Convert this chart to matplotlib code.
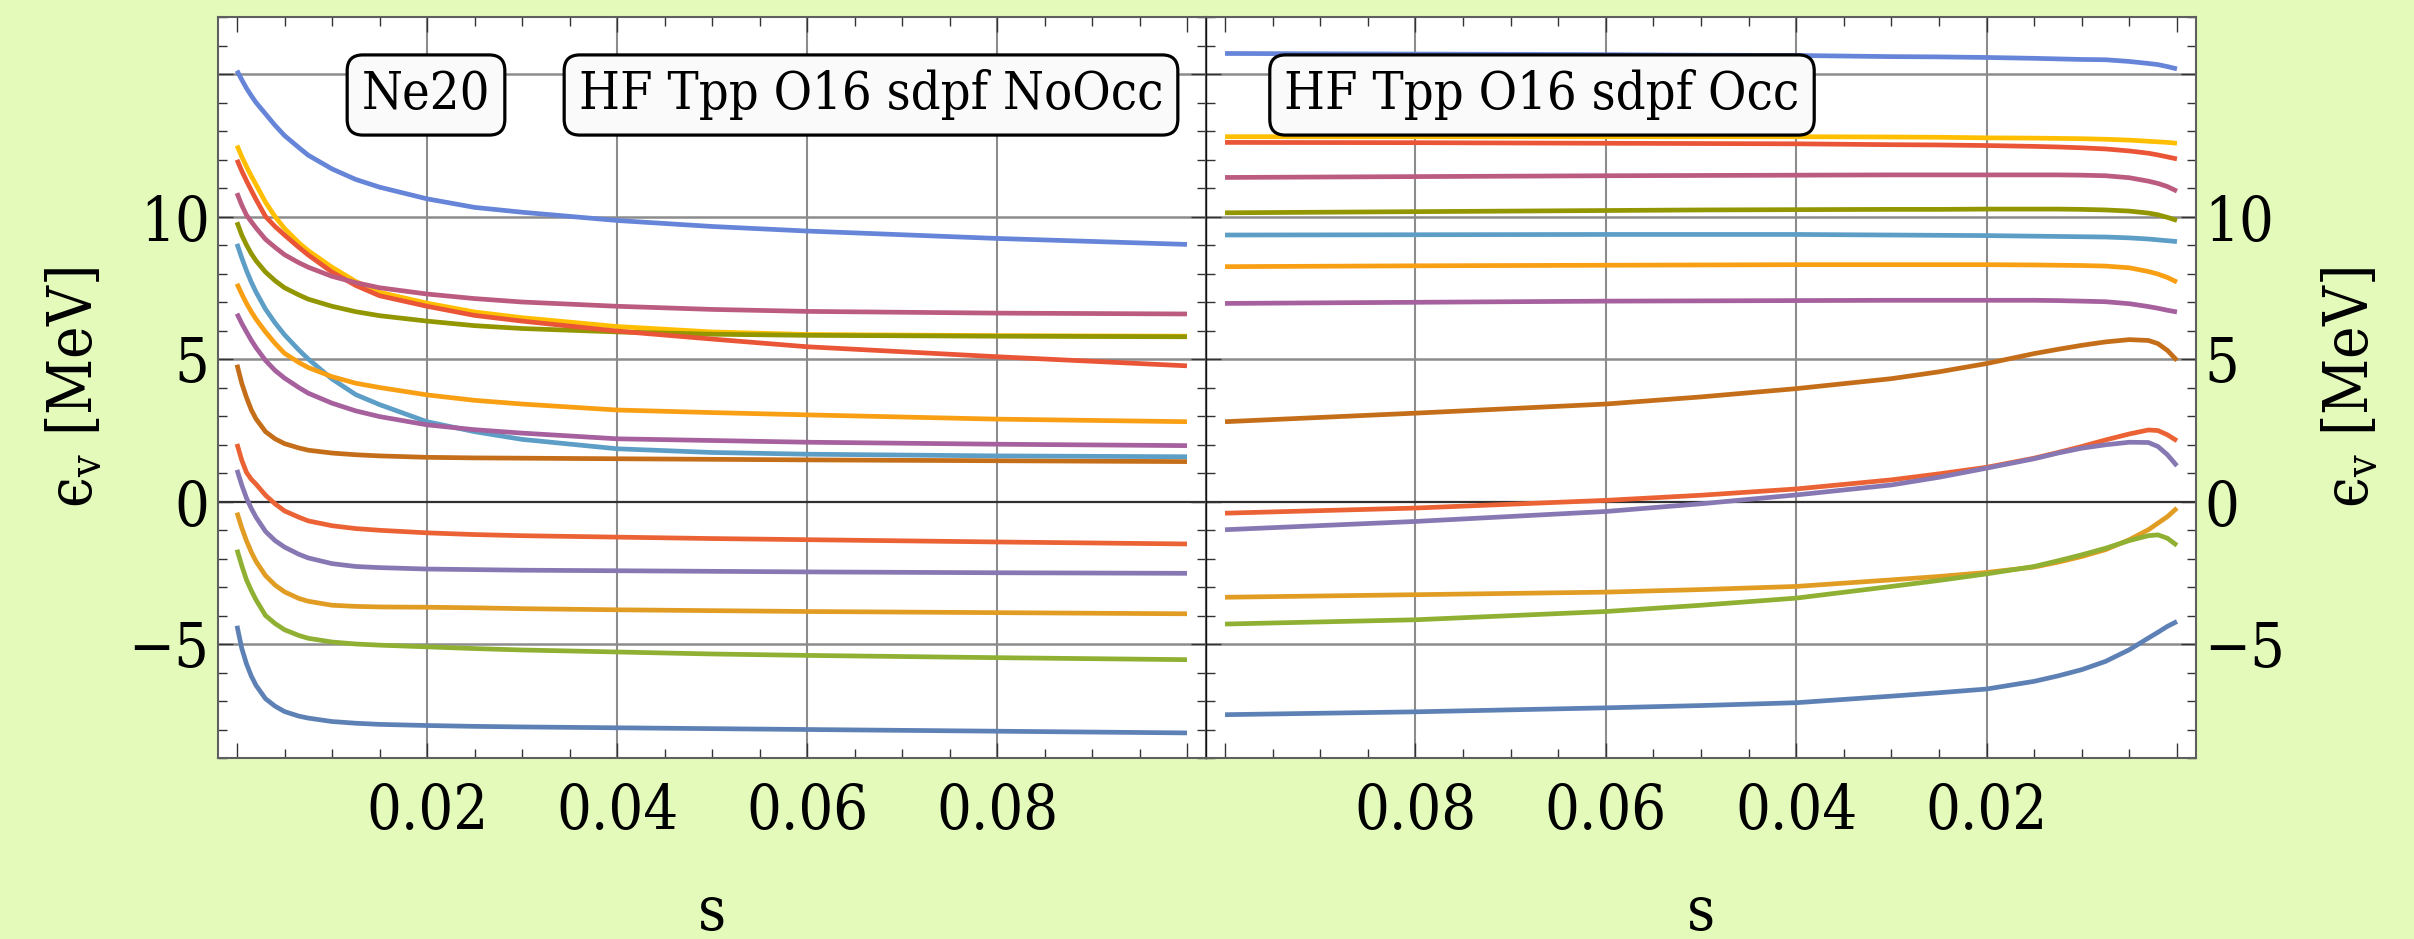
import matplotlib
matplotlib.use("Agg")
import matplotlib.pyplot as plt
from matplotlib.ticker import FixedLocator, MultipleLocator

plt.rcParams["font.family"] = "DejaVu Serif"
plt.rcParams["font.stretch"] = "condensed"
plt.rcParams["mathtext.fontset"] = "dejavuserif"

# flow parameter s; the NoOcc curves fall steeply near s = 0, so they get a finer grid there
s_no_occ = [0, 0.0005, 0.001, 0.0015, 0.002, 0.003, 0.004, 0.005, 0.0065, 0.0075, 0.01,
            0.0125, 0.015, 0.02, 0.025, 0.03, 0.04, 0.05, 0.06, 0.08, 0.1]
s_occ = [0, 0.001, 0.002, 0.003, 0.005, 0.0075, 0.01, 0.0125, 0.015,
         0.02, 0.025, 0.03, 0.04, 0.05, 0.06, 0.08, 0.1]

# single-particle energies (MeV), NoOcc run
no_occ_1 = [-4.36, -5.15, -5.70, -6.12, -6.45, -6.92, -7.18, -7.37, -7.53, -7.60, -7.72, -7.78, -7.82, -7.86, -7.89, -7.91, -7.94, -7.97, -8.00, -8.06, -8.12]
no_occ_2 = [-0.39, -0.92, -1.38, -1.77, -2.10, -2.60, -2.93, -3.17, -3.40, -3.50, -3.64, -3.68, -3.70, -3.71, -3.73, -3.76, -3.80, -3.83, -3.86, -3.90, -3.94]
no_occ_3 = [-1.69, -2.25, -2.75, -3.12, -3.45, -4.00, -4.28, -4.50, -4.70, -4.80, -4.93, -5.00, -5.04, -5.10, -5.16, -5.21, -5.28, -5.35, -5.40, -5.48, -5.55]
no_occ_4 = [2.02, 1.45, 1.02, 0.78, 0.61, 0.22, -0.08, -0.33, -0.55, -0.68, -0.85, -0.95, -1.01, -1.10, -1.16, -1.20, -1.25, -1.30, -1.34, -1.42, -1.49]
no_occ_5 = [1.11, 0.58, 0.12, -0.24, -0.55, -1.05, -1.37, -1.60, -1.85, -1.98, -2.18, -2.28, -2.32, -2.37, -2.39, -2.41, -2.43, -2.45, -2.47, -2.50, -2.52]
no_occ_6 = [4.80, 4.15, 3.65, 3.22, 2.90, 2.45, 2.20, 2.03, 1.88, 1.80, 1.70, 1.64, 1.60, 1.55, 1.53, 1.52, 1.50, 1.48, 1.46, 1.43, 1.40]
no_occ_7 = [9.04, 8.55, 8.10, 7.70, 7.35, 6.75, 6.27, 5.85, 5.32, 5.00, 4.30, 3.75, 3.40, 2.80, 2.45, 2.18, 1.85, 1.72, 1.66, 1.60, 1.57]
no_occ_8 = [12.49, 12.10, 11.75, 11.42, 11.12, 10.50, 10.00, 9.58, 9.08, 8.80, 8.22, 7.72, 7.34, 6.96, 6.65, 6.45, 6.14, 5.95, 5.86, 5.82, 5.80]
no_occ_9 = [6.59, 6.25, 5.95, 5.66, 5.40, 4.95, 4.60, 4.33, 4.00, 3.80, 3.45, 3.18, 2.98, 2.69, 2.52, 2.40, 2.20, 2.14, 2.08, 2.01, 1.96]
no_occ_10 = [9.80, 9.35, 9.00, 8.70, 8.45, 8.05, 7.75, 7.50, 7.25, 7.10, 6.85, 6.66, 6.52, 6.33, 6.17, 6.07, 5.95, 5.87, 5.83, 5.80, 5.78]
no_occ_11 = [11.99, 11.60, 11.25, 10.92, 10.60, 10.00, 9.65, 9.35, 8.92, 8.65, 8.05, 7.58, 7.22, 6.85, 6.53, 6.33, 5.98, 5.70, 5.43, 5.08, 4.76]
no_occ_12 = [15.12, 14.80, 14.50, 14.24, 14.00, 13.60, 13.20, 12.84, 12.42, 12.15, 11.67, 11.30, 11.03, 10.62, 10.32, 10.15, 9.86, 9.65, 9.49, 9.23, 9.02]
no_occ_13 = [7.64, 7.28, 6.95, 6.66, 6.40, 5.95, 5.55, 5.20, 4.88, 4.70, 4.38, 4.15, 4.00, 3.74, 3.55, 3.42, 3.21, 3.12, 3.04, 2.89, 2.80]
no_occ_14 = [10.82, 10.40, 10.05, 9.82, 9.60, 9.20, 8.92, 8.66, 8.38, 8.22, 7.90, 7.68, 7.50, 7.28, 7.12, 7.00, 6.85, 6.74, 6.67, 6.61, 6.58]

# single-particle energies (MeV), Occ run
occ_1 = [-4.21, -4.38, -4.59, -4.79, -5.20, -5.61, -5.90, -6.12, -6.31, -6.58, -6.71, -6.83, -7.06, -7.16, -7.24, -7.38, -7.48]
occ_2 = [-0.23, -0.53, -0.76, -0.99, -1.34, -1.69, -1.93, -2.13, -2.30, -2.49, -2.63, -2.75, -2.98, -3.09, -3.18, -3.27, -3.36]
occ_3 = [-1.54, -1.29, -1.17, -1.20, -1.37, -1.64, -1.87, -2.08, -2.28, -2.54, -2.77, -2.98, -3.39, -3.64, -3.86, -4.15, -4.30]
occ_4 = [2.13, 2.34, 2.49, 2.51, 2.37, 2.16, 1.93, 1.72, 1.52, 1.20, 0.97, 0.76, 0.44, 0.22, 0.04, -0.23, -0.41]
occ_5 = [1.25, 1.64, 1.93, 2.07, 2.08, 1.99, 1.87, 1.70, 1.50, 1.17, 0.85, 0.58, 0.23, -0.08, -0.35, -0.70, -0.99]
occ_6 = [4.95, 5.30, 5.54, 5.65, 5.68, 5.60, 5.48, 5.34, 5.19, 4.84, 4.55, 4.31, 3.96, 3.67, 3.42, 3.10, 2.80]
occ_7 = [9.12, 9.15, 9.18, 9.21, 9.25, 9.28, 9.29, 9.30, 9.31, 9.33, 9.34, 9.35, 9.37, 9.37, 9.37, 9.36, 9.35]
occ_8 = [12.57, 12.60, 12.62, 12.64, 12.68, 12.71, 12.73, 12.74, 12.75, 12.76, 12.78, 12.79, 12.80, 12.80, 12.80, 12.80, 12.80]
occ_9 = [6.65, 6.71, 6.78, 6.84, 6.94, 7.01, 7.03, 7.05, 7.06, 7.06, 7.06, 7.06, 7.05, 7.04, 7.03, 6.99, 6.95]
occ_10 = [9.86, 9.97, 10.06, 10.12, 10.19, 10.23, 10.25, 10.26, 10.26, 10.26, 10.25, 10.25, 10.24, 10.23, 10.21, 10.17, 10.13]
occ_11 = [12.02, 12.09, 12.16, 12.22, 12.30, 12.37, 12.41, 12.44, 12.46, 12.49, 12.51, 12.52, 12.55, 12.56, 12.57, 12.59, 12.60]
occ_12 = [15.18, 15.26, 15.33, 15.37, 15.44, 15.50, 15.51, 15.53, 15.55, 15.58, 15.60, 15.61, 15.65, 15.66, 15.68, 15.70, 15.72]
occ_13 = [7.70, 7.86, 7.98, 8.07, 8.20, 8.26, 8.28, 8.29, 8.30, 8.31, 8.31, 8.31, 8.31, 8.30, 8.29, 8.27, 8.24]
occ_14 = [10.89, 11.05, 11.16, 11.24, 11.36, 11.43, 11.45, 11.46, 11.46, 11.46, 11.46, 11.46, 11.45, 11.44, 11.43, 11.40, 11.37]

no_occ = [no_occ_1, no_occ_2, no_occ_3, no_occ_4, no_occ_5, no_occ_6, no_occ_7,
          no_occ_8, no_occ_9, no_occ_10, no_occ_11, no_occ_12, no_occ_13, no_occ_14]
occ = [occ_1, occ_2, occ_3, occ_4, occ_5, occ_6, occ_7,
       occ_8, occ_9, occ_10, occ_11, occ_12, occ_13, occ_14]

# Mathematica's default plot palette (ColorData[97])
palette = ["#5E81B5", "#E19C24", "#8FB032", "#EB6235", "#8778B3", "#C56E1A", "#5D9EC7",
           "#FFBF00", "#A5609D", "#929600", "#E95536", "#6685D9", "#F89F13", "#BC5B80"]

x_major = [0, 0.02, 0.04, 0.06, 0.08, 0.1]
x_labels = ["", "0.02", "0.04", "0.06", "0.08", ""]
y_major = [-5, 0, 5, 10, 15]
y_labels = ["\u22125", "0", "5", "10", ""]

W, H = 2414, 939
bg = "#e3fabb"
grid_c = "#8c8c8c"

fig = plt.figure(figsize=(W / 100, H / 100), dpi=100, facecolor=bg)
ax_l = fig.add_axes([218 / W, 1 - 758 / H, 988 / W, 741 / H])
ax_r = fig.add_axes([1206 / W, 1 - 758 / H, 990 / W, 741 / H])


def style_panel(ax, s_vals, levels, side):
    for vals, col in zip(levels, palette):
        ax.plot(s_vals, vals, color=col, lw=3.4, solid_capstyle="butt",
                solid_joinstyle="round", zorder=3)
    for xv in x_major[1:-1]:
        ax.axvline(xv, color=grid_c, lw=1.5, zorder=1)
    for yv in y_major:
        if yv == 0:
            ax.axhline(0, color="#303030", lw=1.6, zorder=1)
        else:
            ax.axhline(yv, color=grid_c, lw=1.8, zorder=1)
    ax.set_ylim(-9.0, 17.0)
    if side == "left":
        ax.set_xlim(-0.002, 0.102)
    else:
        ax.set_xlim(0.102, -0.002)
    ax.xaxis.set_major_locator(FixedLocator(x_major))
    ax.set_xticklabels(x_labels)
    ax.xaxis.set_minor_locator(MultipleLocator(0.005))
    ax.yaxis.set_major_locator(FixedLocator(y_major))
    ax.set_yticklabels(y_labels)
    ax.yaxis.set_minor_locator(MultipleLocator(1))
    ax.tick_params(which="both", direction="in", top=True, bottom=True,
                   left=True, right=True, color="#333333", width=1.0,
                   labelsize=44)
    ax.tick_params(which="major", length=10.5)
    ax.tick_params(which="minor", length=6.5)
    ax.tick_params(axis="x", pad=17)
    ax.tick_params(axis="y", pad=6)
    if side == "right":
        ax.tick_params(axis="y", labelleft=False, labelright=True)
    for sp in ax.spines.values():
        sp.set_color("#5f5f5f")
        sp.set_linewidth(1.5)
    ax.set_facecolor("white")


style_panel(ax_l, s_no_occ, no_occ, "left")
style_panel(ax_r, s_occ, occ, "right")
ax_r.spines["left"].set_color("#111111")
ax_r.spines["left"].set_linewidth(1.0)

ylab = "\u03f5$_\\mathregular{v}$ [MeV]"
fig.text(75 / W, 1 - 388 / H, ylab, rotation=90, ha="center", va="center", fontsize=44)
fig.text(2351 / W, 1 - 388 / H, ylab, rotation=90, ha="center", va="center", fontsize=44)
fig.text(712 / W, 1 - 930 / H, "s", ha="center", va="baseline", fontsize=44)
fig.text(1701 / W, 1 - 930 / H, "s", ha="center", va="baseline", fontsize=44)

box = dict(boxstyle="round,pad=0.28,rounding_size=0.3", facecolor="#fafafa",
           edgecolor="black", linewidth=2.3)
for label, xc in [("Ne20", 426), ("HF Tpp O16 sdpf NoOcc", 871),
                  ("HF Tpp O16 sdpf Occ", 1542)]:
    fig.text(xc / W, 1 - 95 / H, label, ha="center", va="center",
             fontsize=37.5, bbox=box, zorder=10)

fig.savefig("out.png", dpi=100, facecolor=bg)
